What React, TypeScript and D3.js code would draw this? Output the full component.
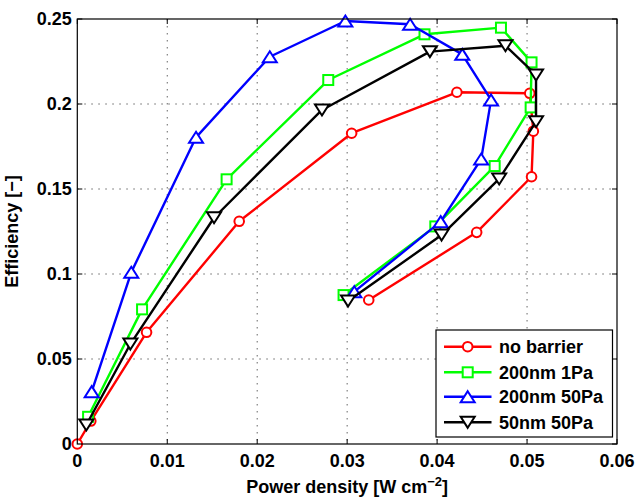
import React from "react";
import * as d3 from "d3";

// Power density [W cm^-2] and efficiency [-] for each barrier configuration
const noBarrierX = [0, 0.0015, 0.0077, 0.018, 0.0305, 0.0422, 0.0503, 0.0507, 0.0505, 0.0444, 0.0324];
const noBarrierY = [0, 0.0135, 0.0657, 0.131, 0.1828, 0.2069, 0.2063, 0.184, 0.1572, 0.1245, 0.0847];

const nm200Pa1X = [0.0012, 0.0072, 0.0166, 0.0279, 0.0386, 0.0471, 0.0505, 0.0504, 0.0464, 0.0398, 0.0296];
const nm200Pa1Y = [0.016, 0.0792, 0.1557, 0.2141, 0.241, 0.2449, 0.2245, 0.198, 0.1635, 0.128, 0.0876];

const nm200Pa50X = [0.0016, 0.006, 0.0132, 0.0214, 0.0298, 0.037, 0.0428, 0.046, 0.0449, 0.0404, 0.0308];
const nm200Pa50Y = [0.0308, 0.101, 0.1804, 0.2278, 0.2488, 0.2469, 0.2292, 0.2024, 0.1676, 0.1308, 0.0896];

const nm50Pa50X = [0.001, 0.0059, 0.0152, 0.0272, 0.0392, 0.0476, 0.051, 0.051, 0.0469, 0.0405, 0.0301];
const nm50Pa50Y = [0.0112, 0.0588, 0.1331, 0.1965, 0.2308, 0.2343, 0.2171, 0.1896, 0.1559, 0.1229, 0.0841];

const seriesNames = ["no barrier", "200nm 1Pa", "200nm 50Pa", "50nm 50Pa"];
const seriesColors = ["#ff0000", "#00ff00", "#0000ff", "#000000"];
const seriesMarkers = ["circle", "square", "triUp", "triDown"];

const xTicks = [0, 0.01, 0.02, 0.03, 0.04, 0.05, 0.06];
const yTicks = [0, 0.05, 0.1, 0.15, 0.2, 0.25];

const W = 638;
const H = 497;
const M = { left: 77.3, right: 617, top: 19, bottom: 444 };
const FONT = "'Liberation Sans', Arial, Helvetica, sans-serif";

function Marker({ kind, x, y, color }: { kind: string; x: number; y: number; color: string }) {
  const sw = 2;
  if (kind === "circle") {
    return <circle cx={x} cy={y} r={4.8} fill="#fff" stroke={color} strokeWidth={sw} />;
  }
  if (kind === "square") {
    return <rect x={x - 5} y={y - 5} width={10} height={10} fill="#fff" stroke={color} strokeWidth={sw} />;
  }
  if (kind === "triUp") {
    return (
      <path
        d={`M${x},${y - 5.5}L${x + 7},${y + 5.5}L${x - 7},${y + 5.5}Z`}
        fill="#fff"
        stroke={color}
        strokeWidth={sw}
        strokeLinejoin="miter"
      />
    );
  }
  return (
    <path
      d={`M${x},${y + 5.5}L${x + 7},${y - 5.5}L${x - 7},${y - 5.5}Z`}
      fill="#fff"
      stroke={color}
      strokeWidth={sw}
      strokeLinejoin="miter"
    />
  );
}

export default function App() {
  const x = d3.scaleLinear().domain([0, 0.06]).range([M.left, M.right]);
  const y = d3.scaleLinear().domain([0, 0.25]).range([M.bottom, M.top]);

  const xs = [noBarrierX, nm200Pa1X, nm200Pa50X, nm50Pa50X];
  const ys = [noBarrierY, nm200Pa1Y, nm200Pa50Y, nm50Pa50Y];
  const series = xs.map((xv, i) => xv.map((v, j) => [v, ys[i][j]] as [number, number]));

  const line = d3
    .line<[number, number]>()
    .x((d) => x(d[0]))
    .y((d) => y(d[1]));

  const tickLen = 5;
  const legend = { x0: 436, y0: 330, x1: 612.5, y1: 437, rows: [346.7, 372.3, 396.7, 422.3] };

  return (
    <div style={{ position: "absolute", left: 0, top: 0, width: W, height: H, background: "#fff" }}>
      <svg width={W} height={H} style={{ display: "block" }} fontFamily={FONT}>
        <rect x={0} y={0} width={W} height={H} fill="#fff" />

        {/* dotted grid */}
        {xTicks.slice(1, -1).map((t) => (
          <line
            key={`gx${t}`}
            x1={x(t)}
            x2={x(t)}
            y1={M.top}
            y2={M.bottom}
            stroke="#666"
            strokeWidth={1}
            strokeDasharray="1.5 5.5"
          />
        ))}
        {yTicks.slice(1, -1).map((t) => (
          <line
            key={`gy${t}`}
            x1={M.left}
            x2={M.right}
            y1={y(t)}
            y2={y(t)}
            stroke="#666"
            strokeWidth={1}
            strokeDasharray="1.5 5.5"
          />
        ))}

        {/* inward ticks on all four sides */}
        {xTicks.map((t) => (
          <g key={`tx${t}`} stroke="#000" strokeWidth={1}>
            <line x1={x(t)} x2={x(t)} y1={M.bottom} y2={M.bottom - tickLen} />
            <line x1={x(t)} x2={x(t)} y1={M.top} y2={M.top + tickLen} />
          </g>
        ))}
        {yTicks.map((t) => (
          <g key={`ty${t}`} stroke="#000" strokeWidth={1}>
            <line x1={M.left} x2={M.left + tickLen} y1={y(t)} y2={y(t)} />
            <line x1={M.right} x2={M.right - tickLen} y1={y(t)} y2={y(t)} />
          </g>
        ))}

        {/* data */}
        {series.map((s, i) => (
          <g key={seriesNames[i]}>
            <path d={line(s) ?? ""} fill="none" stroke={seriesColors[i]} strokeWidth={2.4} strokeLinejoin="round" />
            {s.map((d, j) => (
              <Marker key={j} kind={seriesMarkers[i]} x={x(d[0])} y={y(d[1])} color={seriesColors[i]} />
            ))}
          </g>
        ))}

        {/* frame */}
        <rect
          x={M.left}
          y={M.top}
          width={M.right - M.left}
          height={M.bottom - M.top}
          fill="none"
          stroke="#000"
          strokeWidth={1.2}
        />

        {/* tick labels */}
        {xTicks.map((t) => (
          <text key={`lx${t}`} x={x(t)} y={467} textAnchor="middle" fontSize={18} fontWeight="bold" fill="#000">
            {String(t)}
          </text>
        ))}
        {yTicks.map((t) => (
          <text key={`ly${t}`} x={71.7} y={y(t) + 6.4} textAnchor="end" fontSize={18} fontWeight="bold" fill="#000">
            {String(t)}
          </text>
        ))}

        {/* axis titles */}
        <text x={(M.left + M.right) / 2} y={493} textAnchor="middle" fontSize={18} fontWeight="bold" fill="#000">
          Power density [W cm
          <tspan dy={-7} fontSize={13}>
            −2
          </tspan>
          <tspan dy={7}>]</tspan>
        </text>
        <text
          transform={`translate(17.5,${(M.top + M.bottom) / 2}) rotate(-90)`}
          textAnchor="middle"
          fontSize={18}
          fontWeight="bold"
          fill="#000"
        >
          Efficiency [−]
        </text>

        {/* legend */}
        <rect
          x={legend.x0}
          y={legend.y0}
          width={legend.x1 - legend.x0}
          height={legend.y1 - legend.y0}
          fill="#fff"
          stroke="#000"
          strokeWidth={1.2}
        />
        {seriesNames.map((name, i) => (
          <g key={`leg${name}`}>
            <line
              x1={444}
              x2={491.5}
              y1={legend.rows[i]}
              y2={legend.rows[i]}
              stroke={seriesColors[i]}
              strokeWidth={2.4}
            />
            <Marker kind={seriesMarkers[i]} x={467.7} y={legend.rows[i]} color={seriesColors[i]} />
            <text x={499} y={legend.rows[i] + 6.4} fontSize={18} fontWeight="bold" fill="#000">
              {name}
            </text>
          </g>
        ))}
      </svg>
    </div>
  );
}
